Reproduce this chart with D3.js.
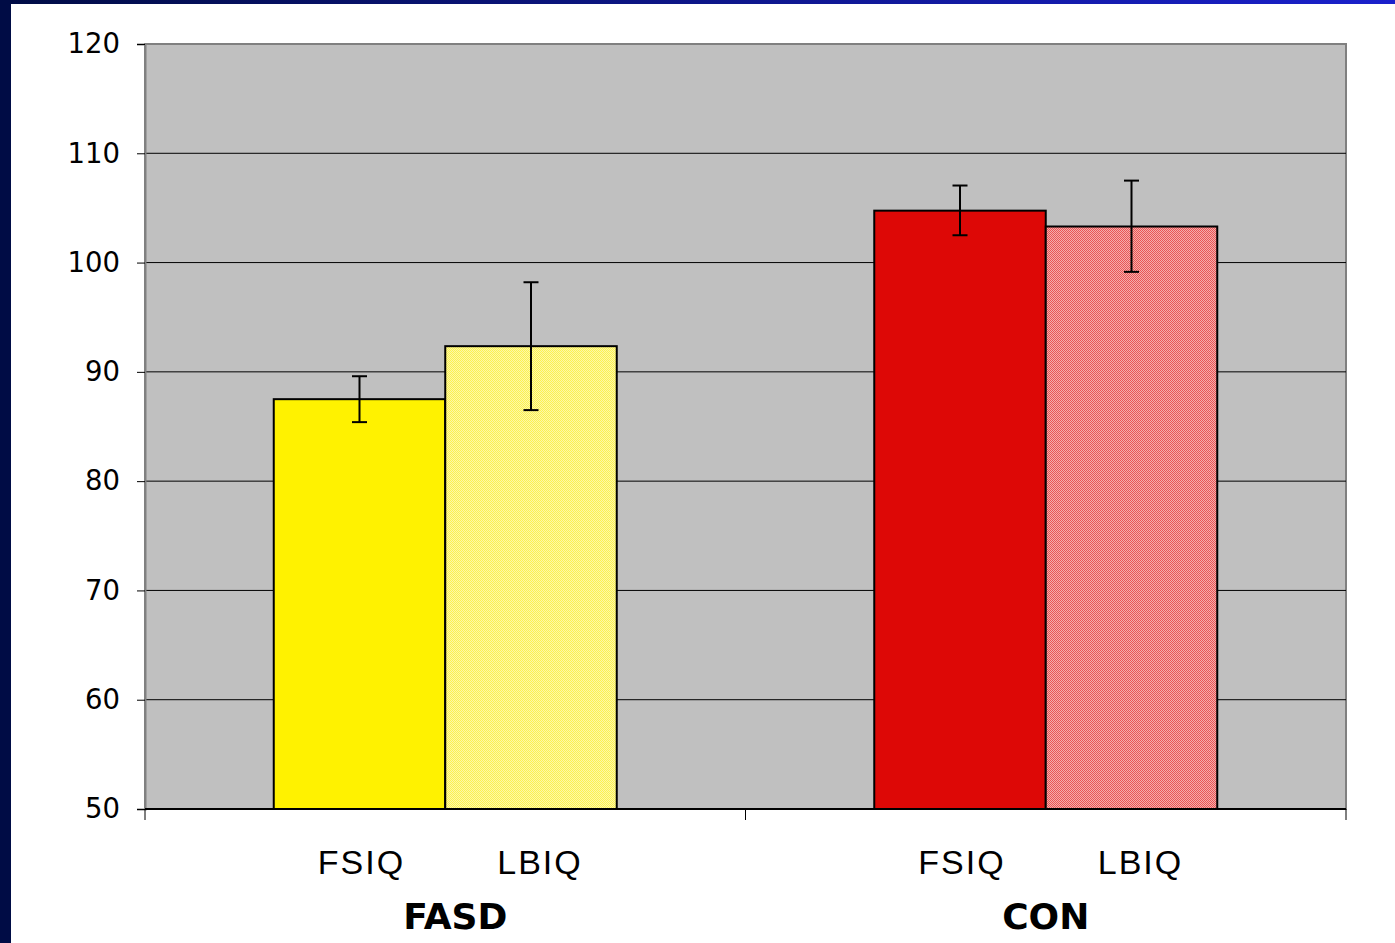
<!DOCTYPE html>
<html><head><meta charset="utf-8">
<script src="https://cdn.jsdelivr.net/npm/d3@7"></script>
<style>html,body{margin:0;padding:0;background:#fff;}svg{display:block;}</style>
</head><body>
<svg id="c" width="1395" height="943"></svg>
<script>
const groups = ["FASD", "CON"];
const measures = ["FSIQ", "LBIQ"];
const means = [[87.5, 92.35], [104.75, 103.3]];
const errLow = [[85.4, 86.5], [102.5, 99.15]];
const errHigh = [[89.6, 98.2], [107.05, 107.5]];
const yTicks = [50, 60, 70, 80, 90, 100, 110, 120];
const solidColors = ["#fff200", "#dd0806"];
const patternBase = ["#fbf27a", "#f08080"];
const patternLight = ["#ffffff", "#ffffff"];

const svg = d3.select("#c");
const W = 1395, H = 943;
const defs = svg.append("defs");
const grad = defs.append("linearGradient").attr("id","topg").attr("x1","0").attr("x2","1");
grad.append("stop").attr("offset","0").attr("stop-color","#000c45");
grad.append("stop").attr("offset","1").attr("stop-color","#1a20cc");
svg.append("rect").attr("x",0).attr("y",0).attr("width",W).attr("height",H).attr("fill","#fff");
svg.append("rect").attr("x",0).attr("y",0).attr("width",W).attr("height",4).attr("fill","url(#topg)");
svg.append("rect").attr("x",0).attr("y",0).attr("width",11).attr("height",H).attr("fill","#000c45");

solidColors.forEach((c,i)=>{
  const p = defs.append("pattern").attr("id","pat"+i).attr("patternUnits","userSpaceOnUse")
    .attr("x",0).attr("y",0).attr("width",4).attr("height",4);
  p.append("rect").attr("width",4).attr("height",4).attr("fill",c);
  p.append("path").attr("d","M1,0h1v1h-1zM3,0h1v1h-1zM0,1h1v1h-1zM2,1h1v1h-1zM1,2h1v1h-1zM3,2h1v1h-1zM0,3h1v1h-1zM2,3h1v1h-1z")
    .attr("fill",patternLight[i]).attr("shape-rendering","crispEdges");
});

const m = {left:145, right:1346, top:44, bottom:809};
const x0 = d3.scaleBand().domain(groups).range([m.left, m.right]).paddingInner(0).paddingOuter(0);
const y = d3.scaleLinear().domain([50,120]).range([m.bottom, m.top]);
const barW = 171.5;
const x1 = d3.scaleBand().domain(measures).range([0, barW*2]);

svg.append("rect").attr("x",m.left).attr("y",m.top).attr("width",m.right-m.left).attr("height",m.bottom-m.top)
  .attr("fill","#c0c0c0").attr("stroke","#808080").attr("stroke-width",2);

// gridlines
svg.append("g").selectAll("line").data(yTicks.filter(t=>t>50 && t<120)).join("line")
  .attr("x1",m.left).attr("x2",m.right).attr("y1",d=>y(d)).attr("y2",d=>y(d))
  .attr("stroke","#000").attr("stroke-width",1);

// y axis
const yAxis = d3.axisLeft(y).tickValues(yTicks).tickSize(8).tickPadding(17);
const ga = svg.append("g").attr("transform",`translate(${m.left},0)`).call(yAxis);
ga.select(".domain").attr("stroke","#808080").attr("stroke-width",2);
ga.selectAll(".tick line").attr("stroke","#000");
ga.selectAll("text").attr("font-family","'DejaVu Sans', Verdana, sans-serif").attr("font-size",27.5).attr("fill","#000");

// bars
groups.forEach((g,gi)=>{
  const gx = x0(g) + (x0.bandwidth() - barW*2)/2;
  measures.forEach((ms,mi)=>{
    const bx = gx + x1(ms);
    const bar = svg.append("rect").attr("x",bx).attr("y",y(means[gi][mi])).attr("width",x1.bandwidth())
      .attr("height",y(50)-y(means[gi][mi]));
    if (mi === 0) {
      bar.attr("fill", solidColors[gi]).attr("stroke","#000").attr("stroke-width",2);
    } else {
      bar.attr("fill", patternBase[gi]);
      svg.append("rect").attr("x",bx).attr("y",y(means[gi][mi])).attr("width",x1.bandwidth())
        .attr("height",y(50)-y(means[gi][mi])).attr("fill",`url(#pat${gi})`).attr("opacity",0.35)
        .attr("stroke","#000").attr("stroke-width",0);
      svg.append("rect").attr("x",bx).attr("y",y(means[gi][mi])).attr("width",x1.bandwidth())
        .attr("height",y(50)-y(means[gi][mi])).attr("fill","none").attr("stroke","#000").attr("stroke-width",2);
    }
    const cx = bx + x1.bandwidth()/2;
    const eg = svg.append("g").attr("stroke","#000").attr("stroke-width",2);
    eg.append("line").attr("x1",cx).attr("x2",cx).attr("y1",y(errLow[gi][mi])).attr("y2",y(errHigh[gi][mi]));
    [errLow[gi][mi], errHigh[gi][mi]].forEach(v=>{
      eg.append("line").attr("x1",cx-7.5).attr("x2",cx+7.5).attr("y1",y(v)).attr("y2",y(v));
    });
    svg.append("text").attr("x", cx + (mi===0?2:9)).attr("y",874).attr("text-anchor","middle")
      .attr("font-family","'Liberation Sans', Arial, sans-serif").attr("font-size",34)
      .attr("letter-spacing",2).attr("fill","#000").text(ms);
  });
  svg.append("text").attr("x", x0(g)+x0.bandwidth()/2 + (gi===0?10:0)).attr("y",929).attr("text-anchor","middle")
    .attr("font-family","'DejaVu Sans', Verdana, sans-serif").attr("font-weight","bold").attr("font-size",36)
    .attr("fill","#000").text(g);
});

// x axis
svg.append("line").attr("x1",m.left).attr("x2",m.right).attr("y1",m.bottom).attr("y2",m.bottom)
  .attr("stroke","#000").attr("stroke-width",2);
const xt = [m.left, ...groups.map(g=>x0(g)+x0.bandwidth())];
svg.append("g").selectAll("line").data(xt).join("line")
  .attr("x1",d=>d).attr("x2",d=>d).attr("y1",m.bottom).attr("y2",m.bottom+11)
  .attr("stroke","#000").attr("stroke-width",1);
</script>
</body></html>
